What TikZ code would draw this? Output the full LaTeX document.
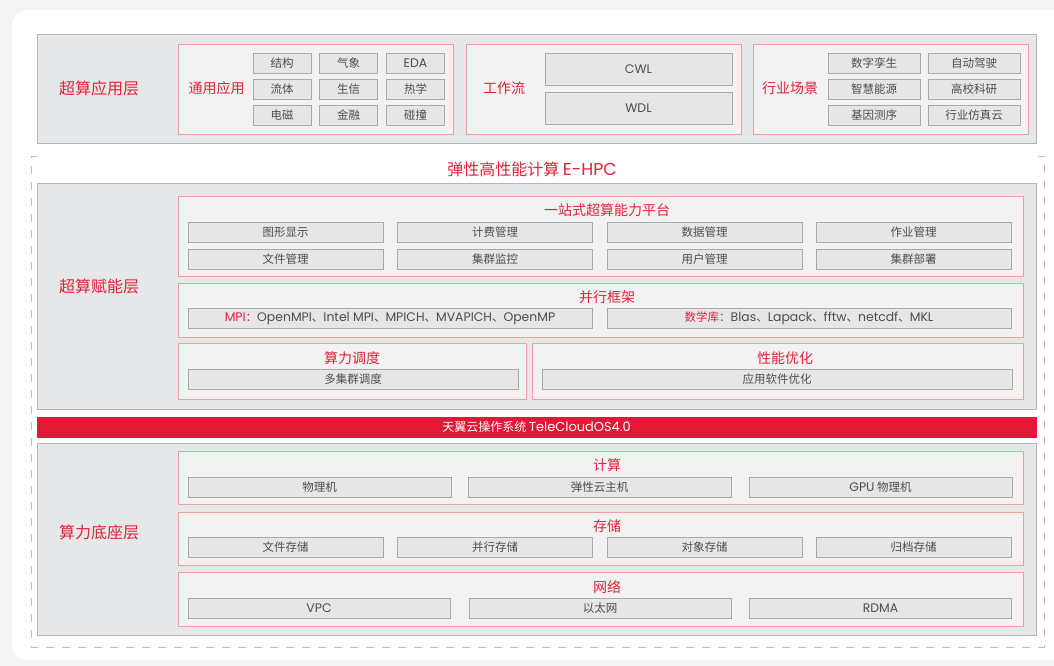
\documentclass[tikz,border=0pt]{standalone}
\usepackage{fontspec}
\setmainfont{Noto Sans CJK SC}
\newfontfamily\latinfont{Poppins}[Scale=1.08]
\definecolor{pagebg}{HTML}{F4F4F4}
\definecolor{redtxt}{HTML}{E4233A}
\definecolor{barred}{HTML}{E31837}
\definecolor{layerfill}{HTML}{E6E7E8}
\definecolor{layerline}{HTML}{B4B5B7}
\definecolor{groupfill}{HTML}{F2F2F2}
\definecolor{groupline}{HTML}{F1A19C}
\definecolor{cellfill}{HTML}{E6E6E6}
\definecolor{cellline}{HTML}{A9A9A9}
\definecolor{celltext}{HTML}{4D4D4D}
\definecolor{frameline}{HTML}{F4A6A6}

\tikzset{
  layerbox/.style={draw=layerline, fill=layerfill, line width=1pt, inner sep=0pt},
  groupbox/.style={draw=groupline, fill=groupfill, line width=0.9pt, inner sep=0pt},
  cellbox/.style={draw=cellline, fill=cellfill, line width=0.9pt, inner sep=0pt,
    minimum height=20, text=celltext, font=\fontsize{11.5}{12}\selectfont},
  layertitle/.style={text=redtxt, font=\fontsize{16}{16}\selectfont},
  grouptitle/.style={text=redtxt, font=\fontsize{14}{14}\selectfont},
}

\begin{document}
\begin{tikzpicture}[x=1pt, y=-1pt]
  \useasboundingbox (0,0) rectangle (1054,666);
  \fill [pagebg] (0,0) rectangle (1054,666);
  \fill [white, rounded corners=16] (12,10) rectangle (1080,660);
  \path [draw=frameline, line width=1pt, dash pattern=on 8pt off 8pt]
    (37,156) -- (31,156) -- (31,647) -- (1044,647) -- (1044,156) -- (1038,156);

  % layers
  \node [layerbox, minimum width=999, minimum height=108] (app) at (536.5,89) {};
  \node [layerbox, minimum width=999, minimum height=226] (enable) at (536.5,296) {};
  \node [draw=barred, fill=barred, inner sep=0pt, minimum width=999, minimum height=20,
    text=white, font=\fontsize{12}{12}\selectfont] (os) at (536.5,427)
    {天翼云操作系统 {\latinfont TeleCloudOS4.0}};
  \node [layerbox, minimum width=999, minimum height=192] (base) at (536.5,539) {};

  \node [layertitle] (appname) at (99,88) {超算应用层};
  \node [layertitle] (enablename) at (99,286) {超算赋能层};
  \node [layertitle] (basename) at (99,532) {算力底座层};
  \node [text=redtxt, font=\fontsize{16}{16}\selectfont] (ehpc) at (532,169)
    {弹性高性能计算 {\latinfont E-HPC}};

  % application layer
  \node [groupbox, minimum width=275, minimum height=90] (general) at (315.5,89) {};
  \node [groupbox, minimum width=275, minimum height=90] (flow) at (603.5,89) {};
  \node [groupbox, minimum width=275, minimum height=90] (scene) at (890.5,89) {};
  \node [grouptitle] (generalname) at (216.5,88) {通用应用};
  \node [grouptitle] (flowname) at (504,88) {工作流};
  \node [grouptitle] (scenename) at (790,88) {行业场景};
  \foreach \n/\cx/\cy/\t in {jg/282/63/结构, qx/348.5/63/气象, eda/415.5/63/{\latinfont EDA},
      lt/282/89/流体, sx/348.5/89/生信, rx/415.5/89/热学,
      dc/282/115/电磁, jr/348.5/115/金融, pz/415.5/115/碰撞}
    \node [cellbox, minimum width=58] (\n) at (\cx,\cy) {\t};
  \node [cellbox, minimum width=187, minimum height=32] (cwl) at (638.5,69) {\latinfont CWL};
  \node [cellbox, minimum width=187, minimum height=32] (wdl) at (638.5,108) {\latinfont WDL};
  \foreach \n/\cx/\cy/\t in {szls/874/63/数字孪生, zdjs/974/63/自动驾驶,
      zhny/874/89/智慧能源, gxky/974/89/高校科研,
      jycx/874/115/基因测序, hyfz/974/115/行业仿真云}
    \node [cellbox, minimum width=92] (\n) at (\cx,\cy) {\t};

  % enabling layer
  \node [groupbox, minimum width=845, minimum height=80] (platform) at (600.5,236) {};
  \node [groupbox, minimum width=845, minimum height=54] (parallel) at (600.5,310) {};
  \node [groupbox, minimum width=348, minimum height=56] (sched) at (352,371) {};
  \node [groupbox, minimum width=491, minimum height=56] (perf) at (777.5,371) {};
  \node [grouptitle] (platformname) at (607,210) {一站式超算能力平台};
  \node [grouptitle] (parallelname) at (607,297) {并行框架};
  \node [grouptitle] (schedname) at (352,358) {算力调度};
  \node [grouptitle] (perfname) at (785,358) {性能优化};
  \foreach \n/\cx/\cy/\t in {txxs/285.5/232/图形显示, jfgl/495/232/计费管理,
      sjgl/704.5/232/数据管理, zygl/913.5/232/作业管理,
      wjgl/285.5/259/文件管理, jqjk/495/259/集群监控,
      yhgl/704.5/259/用户管理, jqbs/913.5/259/集群部署}
    \node [cellbox, minimum width=195] (\n) at (\cx,\cy) {\t};
  \node [cellbox, minimum width=404] (mpi) at (390,318.5)
    {{\color{redtxt}\latinfont MPI}{\color{redtxt}：}{\latinfont OpenMPI}、{\latinfont Intel MPI}、{\latinfont MPICH}、{\latinfont MVAPICH}、{\latinfont OpenMP}};
  \node [cellbox, minimum width=404] (mathlib) at (809,318.5)
    {{\color{redtxt}数学库：}{\latinfont Blas}、{\latinfont Lapack}、{\latinfont fftw}、{\latinfont netcdf}、{\latinfont MKL}};
  \node [cellbox, minimum width=330] (multi) at (353,379.5) {多集群调度};
  \node [cellbox, minimum width=470] (appopt) at (777,379.5) {应用软件优化};

  % base layer
  \node [groupbox, minimum width=845, minimum height=53] (compute) at (600.5,477.5) {};
  \node [groupbox, minimum width=845, minimum height=53] (storage) at (600.5,538.5) {};
  \node [groupbox, minimum width=845, minimum height=54] (network) at (600.5,599) {};
  \node [grouptitle] (computename) at (607,465) {计算};
  \node [grouptitle] (storagename) at (607,526) {存储};
  \node [grouptitle] (networkname) at (607,587) {网络};
  \foreach \n/\cx/\t in {wlj/319.5/物理机, txyzj/599.5/弹性云主机, gpu/880.5/{{\latinfont GPU} 物理机}}
    \node [cellbox, minimum width=263] (\n) at (\cx,487) {\t};
  \foreach \n/\cx/\t in {wjcc/285.5/文件存储, bxcc/495/并行存储,
      dxcc/704.5/对象存储, gdcc/913.5/归档存储}
    \node [cellbox, minimum width=195] (\n) at (\cx,547) {\t};
  \foreach \n/\cx/\t in {vpc/319/{\latinfont VPC}, ytw/600/以太网, rdma/880.5/{\latinfont RDMA}}
    \node [cellbox, minimum width=262] (\n) at (\cx,608) {\t};
\end{tikzpicture}
\end{document}
